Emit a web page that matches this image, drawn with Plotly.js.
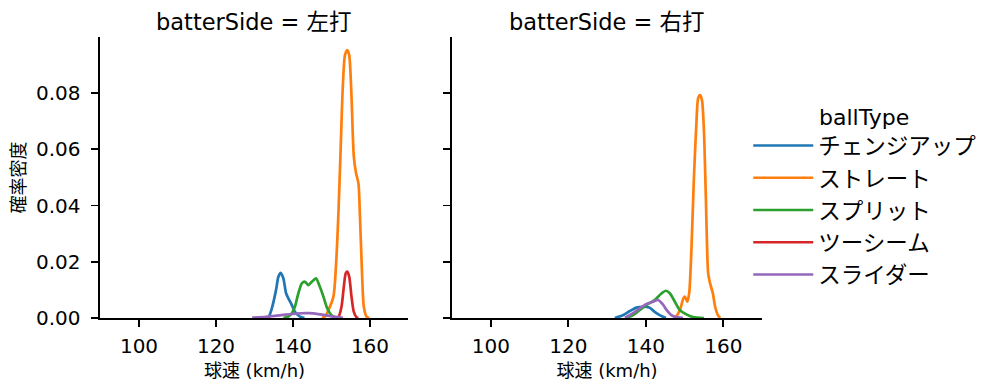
<!DOCTYPE html>
<html>
<head>
<meta charset="utf-8">
<script src="https://cdn.plot.ly/plotly-3.0.1.min.js"></script>
<style>html,body{margin:0;padding:0;background:#fff;}#chart{width:999px;height:391px;}</style>
</head>
<body>
<div id="chart"></div>
<script>
const ballTypes = ["チェンジアップ", "ストレート", "スプリット", "ツーシーム", "スライダー"];
const colors = ["#1f77b4", "#ff7f0e", "#2ca02c", "#d62728", "#9467bd"];
const panelTitles = ["batterSide = 左打", "batterSide = 右打"];
const legendTitle = "ballType";
const yTickVals = [0, 0.02, 0.04, 0.06, 0.08];
const xTickVals = [100, 120, 140, 160];

// Left-handed batters (左打)
const L_change_x = [132.5,133.6,134.5,135.6,136.2,136.8,137.5,138.2,138.8,139.7,140.5,141.8,143];
const L_change_y = [0,0.0003,0.0034,0.0100,0.0147,0.0161,0.0141,0.0088,0.0070,0.0046,0.0022,0.0005,0];
const L_straight_x = [147.5,148.3,149.2,150.5,151.2,151.8,152.4,152.9,153.5,154.1,154.6,155.2,155.8,156.4,157.0,157.4,157.9,158.4,159.1,159.8];
const L_straight_y = [0,0.0005,0.0028,0.0076,0.0194,0.0372,0.0609,0.0811,0.0935,0.0953,0.0935,0.0787,0.0574,0.0514,0.0479,0.0360,0.0171,0.0040,0.0005,0];
const L_split_x = [137.5,138.8,139.7,140.5,141.4,142.3,143.1,144.0,144.9,146.0,146.8,147.9,148.9,150.0,151.2];
const L_split_y = [0,0.0005,0.0017,0.0040,0.0088,0.0123,0.0129,0.0117,0.0129,0.0141,0.0117,0.0076,0.0034,0.0010,0];
const L_two_x = [151.3,151.8,152.6,153.2,153.7,154.1,154.6,155.2,155.8,156.5,157];
const L_two_y = [0,0.0003,0.0040,0.0111,0.0159,0.0165,0.0147,0.0076,0.0022,0.0003,0];
const L_slider_x = [129.4,133,137,141,144,147,150,153];
const L_slider_y = [0.0001,0.0004,0.0010,0.0016,0.0017,0.0013,0.0006,0.0001];

// Right-handed batters (右打)
const R_change_x = [132,134.1,135.9,137.6,139.3,140.9,142.3,143.6,145.2];
const R_change_y = [0,0.0010,0.0025,0.0037,0.0040,0.0037,0.0022,0.0010,0];
const R_straight_x = [147.2,147.8,148.8,149.7,150.1,150.7,151.2,151.8,152.4,153.1,153.5,154.0,154.5,155.0,155.5,156.1,156.6,157.3,157.9,158.6,159.2];
const R_straight_y = [0,0.0005,0.0028,0.0070,0.0076,0.0058,0.0088,0.0253,0.0491,0.0704,0.0781,0.0793,0.0775,0.0668,0.0431,0.0159,0.0123,0.0088,0.0040,0.0010,0];
const R_split_x = [135.0,136.7,138.4,140.6,142.3,144.1,145.2,146.2,147.5,148.8,150.5,152.2,155];
const R_split_y = [0,0.0010,0.0028,0.0050,0.0064,0.0088,0.0097,0.0088,0.0058,0.0028,0.0013,0.0003,0];
const R_slider_x = [134.6,136.7,138.4,140.2,141.9,143.2,144.3,145.4,146.6,147.9,149.6];
const R_slider_y = [0,0.0017,0.0034,0.0050,0.0058,0.0064,0.0050,0.0028,0.0010,0.0003,0];

const panels = [
  {xa: "x", ya: "y", series: [[L_change_x, L_change_y], [L_straight_x, L_straight_y], [L_split_x, L_split_y], [L_two_x, L_two_y], [L_slider_x, L_slider_y]]},
  {xa: "x2", ya: "y2", series: [[R_change_x, R_change_y], [R_straight_x, R_straight_y], [R_split_x, R_split_y], null, [R_slider_x, R_slider_y]]}
];

const FONT = "DejaVu Sans, Noto Sans CJK JP, sans-serif";
const traces = [];
panels.forEach((p, pi) => {
  p.series.forEach((s, i) => {
    if (!s) return;
    traces.push({
      type: "scatter", mode: "lines", x: s[0], y: s[1],
      xaxis: p.xa, yaxis: p.ya, name: ballTypes[i], legendgroup: ballTypes[i],
      showlegend: pi === 0, legendrank: i + 1,
      line: {color: colors[i], width: 2.7, shape: "spline", smoothing: 0.7},
      hoverinfo: "skip"
    });
  });
});

const axBase = {
  showgrid: false, zeroline: false, showline: true, linecolor: "#000", linewidth: 2,
  ticks: "outside", ticklen: 7, tickwidth: 1.8, tickcolor: "#000",
  tickfont: {family: FONT, size: 20, color: "#000"}
};
const xAx = (dom, anchor) => Object.assign({}, axBase, {
  domain: dom, anchor: anchor, range: [90, 170], tickvals: xTickVals,
  ticklabelstandoff: 2,
  title: {text: "球速 (km/h)", font: {family: FONT, size: 18, color: "#000"}, standoff: 7}
});
const yAx = (anchor, showLabels, title) => Object.assign({}, axBase, {
  domain: [0.1867, 0.9054], anchor: anchor, range: [0, 0.09996], tickvals: yTickVals,
  tickformat: ".2f", showticklabels: showLabels, ticklabelstandoff: 7,
  title: {text: title, font: {family: FONT, size: 18, color: "#000"}, standoff: 6}
});

const layout = {
  width: 999, height: 391, margin: {l: 0, r: 0, t: 0, b: 0},
  paper_bgcolor: "#fff", plot_bgcolor: "#fff",
  font: {family: FONT, color: "#000"},
  xaxis: xAx([0.1006, 0.4089], "y"),
  yaxis: yAx("x", true, "確率密度"),
  xaxis2: xAx([0.4525, 0.7628], "y2"),
  yaxis2: yAx("x2", false, ""),
  showlegend: true,
  legend: {
    x: 0.749, y: 0.462, xanchor: "left", yanchor: "middle",
    font: {family: FONT, size: 22.5, color: "#000"}, itemwidth: 60,
    tracegroupgap: 0, bgcolor: "rgba(0,0,0,0)"
  },
  annotations: panelTitles.map((t, i) => ({
    text: t, xref: "paper", yref: "paper",
    x: i === 0 ? (0.1006 + 0.4089) / 2 : (0.4525 + 0.7628) / 2,
    y: 0.944, xanchor: "center", yanchor: "middle", showarrow: false,
    font: {family: FONT, size: 22.5, color: "#000"}
  })).concat([{
    text: legendTitle, xref: "paper", yref: "paper", x: 0.818, y: 0.70,
    xanchor: "left", yanchor: "middle", showarrow: false,
    font: {family: FONT, size: 22, color: "#000"}
  }])
};

Plotly.newPlot("chart", traces, layout, {displayModeBar: false, staticPlot: true});
</script>
</body>
</html>
